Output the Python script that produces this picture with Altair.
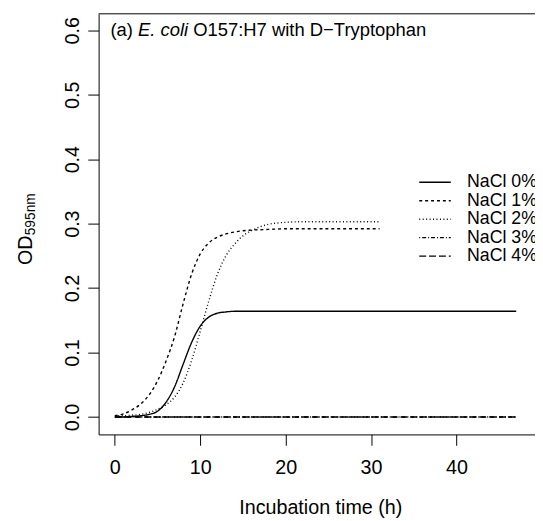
import altair as alt
import pandas as pd

series = ["NaCl 0%", "NaCl 1%", "NaCl 2%", "NaCl 3%", "NaCl 4%"]

t0 = [0, 1, 2, 3, 4, 5, 6, 7, 8, 9, 10, 11, 12, 13, 14, 15, 16, 20, 30, 40, 47]
v0 = [0.000, 0.000, 0.001, 0.002, 0.004, 0.009, 0.023, 0.047, 0.082, 0.116, 0.141,
      0.155, 0.161, 0.163, 0.164, 0.164, 0.164, 0.164, 0.164, 0.164, 0.164]

t1 = [0, 1, 2, 3, 4, 5, 6, 7, 8, 9, 10, 11, 12, 13, 14, 15, 16, 18, 20, 25, 31]
v1 = [0.002, 0.005, 0.011, 0.020, 0.034, 0.056, 0.087, 0.125, 0.176, 0.222, 0.253,
      0.270, 0.279, 0.284, 0.287, 0.289, 0.290, 0.291, 0.292, 0.292, 0.292]

t2 = [0, 1, 2, 3, 4, 5, 6, 7, 8, 9, 10, 11, 12, 13, 14, 15, 16, 17, 18, 19, 20, 22, 25, 31]
v2 = [0.002, 0.002, 0.003, 0.004, 0.007, 0.012, 0.019, 0.031, 0.053, 0.088, 0.133,
      0.180, 0.221, 0.250, 0.268, 0.281, 0.289, 0.295, 0.299, 0.301, 0.302, 0.303,
      0.303, 0.303]

t3 = [0, 5, 10, 20, 30, 40, 47]
v3 = [0.000, 0.000, 0.000, 0.000, 0.000, 0.000, 0.000]

t4 = [0, 5, 10, 20, 30, 40, 47]
v4 = [0.000, 0.000, 0.000, 0.000, 0.000, 0.000, 0.000]

x_ticks = [0, 10, 20, 30, 40]
y_ticks = [0.0, 0.1, 0.2, 0.3, 0.4, 0.5, 0.6]

title_parts = ["(a)", "E. coli", "O157:H7 with D\u2212Tryptophan"]
y_title_parts = ["OD", "595nm"]
x_title = "Incubation time (h)"

dashes = [[1, 0], [3, 3], [1, 2.5], [1, 2, 4, 2], [7, 3]]

rows = []
for name, ts, vs in zip(series, [t0, t1, t2, t3, t4], [v0, v1, v2, v3, v4]):
    for t, v in zip(ts, vs):
        rows.append({"time": t, "od": v, "series": name})
df = pd.DataFrame(rows)

FONT = "Liberation Sans"
FS = 20
TFS = 18.7
LFS = 18
W, H = 443, 427

x_enc = alt.X(
    "time:Q",
    scale=alt.Scale(domain=[-1.9, 49.2], nice=False, zero=False),
    axis=alt.Axis(values=x_ticks, title=x_title, tickSize=11, labelPadding=13,
                  titlePadding=20, titleX=225, grid=False, format="d"),
)
y_enc = alt.Y(
    "od:Q",
    scale=alt.Scale(domain=[-0.027, 0.6255], nice=False, zero=False),
    axis=alt.Axis(values=y_ticks, title=None, tickSize=11, labelPadding=9,
                  labelAngle=270, labelAlign="center", labelBaseline="alphabetic",
                  format=".1f", grid=False),
)

lines = alt.Chart(df).mark_line(color="black", strokeWidth=1.4, interpolate="monotone").encode(
    x=x_enc,
    y=y_enc,
    strokeDash=alt.StrokeDash(
        "series:N",
        scale=alt.Scale(domain=series, range=dashes),
        legend=alt.Legend(
            title=None, orient="none", legendX=332.5, legendY=162,
            symbolType="M-2,0H2", symbolSize=256, symbolStrokeWidth=1.4,
            symbolStrokeColor="black", labelFontSize=LFS, labelFont=FONT,
            labelColor="black", labelOffset=23.5, rowPadding=0.75, padding=0,
        ),
    ),
    detail="series:N",
)

one = pd.DataFrame({"k": [0]})

top_border = alt.Chart(one).mark_rule(color="black", strokeWidth=1).encode(
    x=alt.value(0), x2=alt.value(W), y=alt.value(0)
)

t_a = alt.Chart(pd.DataFrame({"s": [title_parts[0]]})).mark_text(
    align="left", baseline="alphabetic", fontSize=TFS, font=FONT, color="black"
).encode(text="s:N", x=alt.value(12), y=alt.value(23))
t_b = alt.Chart(pd.DataFrame({"s": [title_parts[1]]})).mark_text(
    align="left", baseline="alphabetic", fontSize=TFS, font=FONT, color="black", fontStyle="italic"
).encode(text="s:N", x=alt.value(40), y=alt.value(23))
t_c = alt.Chart(pd.DataFrame({"s": [title_parts[2]]})).mark_text(
    align="left", baseline="alphabetic", fontSize=TFS, font=FONT, color="black"
).encode(text="s:N", x=alt.value(96), y=alt.value(23))

yt_main = alt.Chart(pd.DataFrame({"s": [y_title_parts[0]]})).mark_text(
    align="center", baseline="alphabetic", fontSize=FS, font=FONT, color="black", angle=270
).encode(text="s:N", x=alt.value(-68), y=alt.value(240))
yt_sub = alt.Chart(pd.DataFrame({"s": [y_title_parts[1]]})).mark_text(
    align="center", baseline="alphabetic", fontSize=14, font=FONT, color="black", angle=270
).encode(text="s:N", x=alt.value(-65), y=alt.value(203.5))

chart = alt.layer(lines, top_border, t_a, t_b, t_c, yt_main, yt_sub).properties(
    width=W, height=H,
    padding={"left": 92, "top": 2, "right": 0, "bottom": 84},
    autosize=alt.AutoSizeParams(type="none"),
).configure_view(stroke=None).configure_axis(
    domainColor="black", tickColor="black", labelColor="black", titleColor="black",
    labelFont=FONT, titleFont=FONT, labelFontSize=FS, titleFontSize=FS,
    titleFontWeight="normal", domainWidth=1, tickWidth=1,
)

chart.save("out.html", embed_options={"renderer": "svg", "actions": False})
